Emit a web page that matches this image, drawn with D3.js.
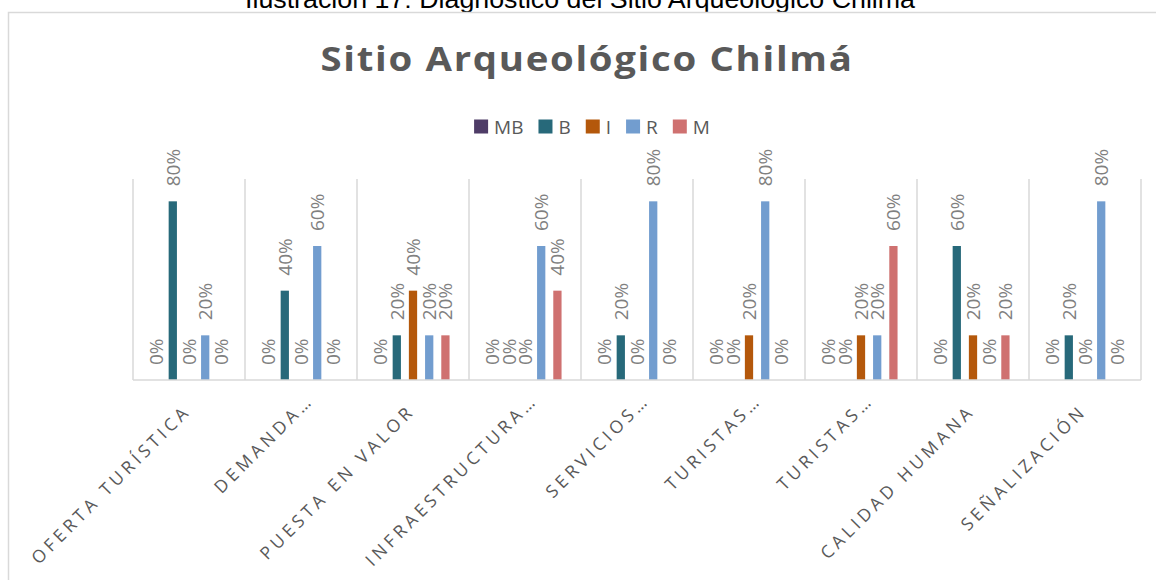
<!DOCTYPE html>
<html>
<head>
<meta charset="utf-8">
<script src="https://cdn.jsdelivr.net/npm/d3@7"></script>
<style>
  body { margin: 0; background: #fff; }
  svg { display: block; }
</style>
</head>
<body>
<div id="chart"></div>
<script>
// chart data
let categories = ["OFERTA TURÍSTICA", "DEMANDA…", "PUESTA EN VALOR", "INFRAESTRUCTURA…",
                  "SERVICIOS…", "TURISTAS…", "TURISTAS…", "CALIDAD HUMANA", "SEÑALIZACIÓN"];
let seriesNames = ["MB", "B", "I", "R", "M"];
let seriesColors = ["#4e3c67", "#27697a", "#b4580b", "#729dcf", "#cf7170"];
let valuesMB = [0, 0, 0, 0, 0, 0, 0, 0, 0];
let valuesB  = [0.8, 0.4, 0.2, 0, 0.2, 0, 0, 0.6, 0.2];
let valuesI  = [0, 0, 0.4, 0, 0, 0.2, 0.2, 0.2, 0];
let valuesR  = [0.2, 0.6, 0.2, 0.6, 0.8, 0.8, 0.2, 0, 0.8];
let valuesM  = [0, 0, 0.2, 0.4, 0, 0, 0.6, 0.2, 0];
let seriesValues = [valuesMB, valuesB, valuesI, valuesR, valuesM];

let caption = "Ilustración 17: Diagnóstico del Sitio Arqueológico Chilmá";
let title = "Sitio Arqueológico Chilmá";

let width = 1156,
    height = 580;
let plot = { left: 133, right: 1141, top: 179, bottom: 380 };

let svg = d3.select("#chart")
    .append("svg")
    .attr("width", width)
    .attr("height", height);

// caption above the chart frame, partly cut off by the page top
svg.append("text")
    .attr("x", 580)
    .attr("y", 7.5)
    .attr("text-anchor", "middle")
    .attr("textLength", 670)
    .attr("lengthAdjust", "spacingAndGlyphs")
    .style("font-family", "'Liberation Sans', Arial, sans-serif")
    .style("font-size", "26px")
    .style("fill", "#000")
    .text(caption);

// chart frame
svg.append("rect")
    .attr("x", 8.5)
    .attr("y", 12.5)
    .attr("width", 1160)
    .attr("height", 600)
    .attr("fill", "#fff")
    .attr("stroke", "#d9d9d9")
    .attr("stroke-width", 1.5);

// title
svg.append("text")
    .attr("x", 587)
    .attr("y", 71)
    .attr("text-anchor", "middle")
    .attr("textLength", 533)
    .attr("lengthAdjust", "spacingAndGlyphs")
    .style("font-family", "'Open Sans', sans-serif")
    .style("font-weight", "bold")
    .style("font-size", "34px")
    .style("letter-spacing", "1.5px")
    .style("fill", "#595959")
    .text(title);

// scales
let idx = categories.map(function(d, i) { return i; });
let x0 = d3.scaleBand()
    .domain(idx)
    .range([plot.left, plot.right])
    .padding(0);

let x1 = d3.scaleBand()
    .domain(seriesNames)
    .range([0, x0.bandwidth()])
    .paddingInner(0.49)
    .paddingOuter(1.2);

let y = d3.scaleLinear()
    .domain([0, 0.9])
    .range([plot.bottom, plot.top]);

// vertical separators between categories
let grid = svg.append("g");
grid.selectAll("line")
    .data(d3.range(categories.length + 1))
    .enter()
    .append("line")
    .attr("x1", function(i) { return i < categories.length ? x0(i) : x0(categories.length - 1) + x0.bandwidth(); })
    .attr("x2", function(i) { return i < categories.length ? x0(i) : x0(categories.length - 1) + x0.bandwidth(); })
    .attr("y1", y(0.9))
    .attr("y2", y(0))
    .attr("stroke", "#d9d9d9")
    .attr("stroke-width", 1.5);

// flat table for bars and labels
let cells = [];
idx.forEach(function(ci) {
    seriesNames.forEach(function(s, si) {
        cells.push({ cat: ci, series: s, color: seriesColors[si], value: seriesValues[si][ci] });
    });
});

svg.append("g").selectAll("rect")
    .data(cells.filter(function(d) { return d.value > 0; }))
    .enter()
    .append("rect")
    .attr("x", function(d) { return x0(d.cat) + x1(d.series); })
    .attr("y", function(d) { return y(d.value); })
    .attr("width", x1.bandwidth())
    .attr("height", function(d) { return y(0) - y(d.value); })
    .attr("fill", function(d) { return d.color; });

// category axis line
svg.append("line")
    .attr("x1", plot.left)
    .attr("x2", plot.right)
    .attr("y1", y(0))
    .attr("y2", y(0))
    .attr("stroke", "#d9d9d9")
    .attr("stroke-width", 1.5);

// data labels, rotated
svg.append("g").selectAll("text")
    .data(cells)
    .enter()
    .append("text")
    .attr("transform", function(d) {
        let cx = x0(d.cat) + x1(d.series) + x1.bandwidth() / 2;
        return `translate(${cx}, ${y(d.value) - 15}) rotate(-90)`;
    })
    .attr("dy", "0.36em")
    .style("font-family", "'Open Sans', sans-serif")
    .style("font-size", "19px")
    .style("fill", "#808080")
    .text(function(d) { return Math.round(d.value * 100) + "%"; });

// category labels at -45 degrees
svg.append("g").selectAll("text")
    .data(idx)
    .enter()
    .append("text")
    .attr("transform", function(i) {
        return `translate(${x0(i) + x0.bandwidth() / 2 + 3}, 412) rotate(-45)`;
    })
    .attr("dx", function(i) { return categories[i].endsWith("…") ? 15 : 0; })
    .attr("text-anchor", "end")
    .style("font-family", "'Open Sans', sans-serif")
    .style("font-size", "17.5px")
    .style("letter-spacing", "4px")
    .style("fill", "#595959")
    .text(function(i) { return categories[i]; });

// legend
let legend = svg.append("g");
let items = legend.selectAll("g")
    .data(seriesNames)
    .enter()
    .append("g");
items.append("rect")
    .attr("width", 14)
    .attr("height", 14)
    .attr("y", 119.5)
    .attr("fill", function(d, i) { return seriesColors[i]; });
items.append("text")
    .attr("x", 20)
    .attr("y", 133.5)
    .style("font-family", "'Open Sans', sans-serif")
    .style("font-size", "19px")
    .style("fill", "#595959")
    .text(function(d) { return d; });

let offsets = [], pos = 0;
items.each(function() {
    offsets.push(pos);
    pos += 20 + d3.select(this).select("text").node().getComputedTextLength() + 15;
});
let legendWidth = pos - 15;
let legendStart = 592 - legendWidth / 2;
items.attr("transform", function(d, i) { return `translate(${legendStart + offsets[i]}, 0)`; });
</script>
</body>
</html>
